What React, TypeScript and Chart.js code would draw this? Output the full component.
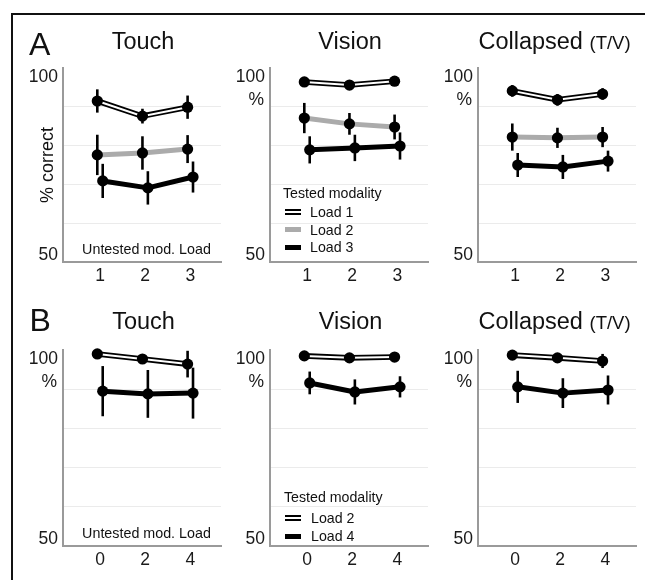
import React, { useEffect, useRef } from 'react';
import { Chart, registerables } from 'chart.js';
Chart.register(...registerables);

const FONT = '"Liberation Sans", Arial, Helvetica, sans-serif';

// ---------- data ----------
const xLabelsA = ['1', '2', '3'];
const xLabelsB = ['0', '2', '4'];

// Row A: Touch
const touchA_load1 = [91.5, 87.6, 89.9];
const touchA_load1_err = [3.0, 1.9, 3.0];
const touchA_load2 = [77.6, 78.1, 79.1];
const touchA_load2_err = [5.2, 4.3, 3.6];
const touchA_load3 = [70.9, 69.1, 71.9];
const touchA_load3_err = [4.4, 4.3, 4.0];

// Row A: Vision
const visionA_load1 = [96.4, 95.6, 96.6];
const visionA_load1_err = [0.8, 0.8, 0.8];
const visionA_load2 = [87.1, 85.6, 84.8];
const visionA_load2_err = [3.9, 2.8, 3.2];
const visionA_load3 = [78.9, 79.4, 79.9];
const visionA_load3_err = [3.5, 3.4, 3.5];

// Row A: Collapsed
const collA_load1 = [94.1, 91.8, 93.3];
const collA_load1_err = [1.5, 1.5, 1.5];
const collA_load2 = [82.2, 82.0, 82.2];
const collA_load2_err = [3.5, 2.6, 2.6];
const collA_load3 = [75.0, 74.5, 76.0];
const collA_load3_err = [3.1, 3.1, 2.7];

// Row B: Touch
const touchB_load2 = [99.0, 97.7, 96.4];
const touchB_load2_err = [0.5, 0.8, 3.4];
const touchB_load4 = [89.5, 88.8, 89.0];
const touchB_load4_err = [6.4, 6.1, 6.5];

// Row B: Vision
const visionB_load2 = [98.5, 98.0, 98.2];
const visionB_load2_err = [0.6, 0.6, 0.6];
const visionB_load4 = [91.6, 89.3, 90.6];
const visionB_load4_err = [2.9, 3.2, 2.7];

// Row B: Collapsed
const collB_load2 = [98.7, 98.0, 97.2];
const collB_load2_err = [0.5, 0.6, 1.8];
const collB_load4 = [90.6, 89.0, 89.8];
const collB_load4_err = [4.1, 3.8, 3.7];

const yTickLabels = ['100', '50'];

// ---------- styles ----------
type Kind = 'double' | 'gray' | 'black';
interface Series { kind: Kind; values: number[]; errs: number[]; dodge: number }
interface PanelDef {
  id: string;
  axisX: number;
  top: number;
  plotW: number;
  plotH: number;
  xLabels: string[];
  pct: boolean;
  series: Series[];
}

const DODGE = 0.06;
const PLOT_W = 158;

const PANELS: PanelDef[] = [
  {
    id: 'tA', axisX: 63, top: 68, plotW: PLOT_W, plotH: 194, xLabels: xLabelsA, pct: false,
    series: [
      { kind: 'double', values: touchA_load1, errs: touchA_load1_err, dodge: -DODGE },
      { kind: 'gray', values: touchA_load2, errs: touchA_load2_err, dodge: -DODGE },
      { kind: 'black', values: touchA_load3, errs: touchA_load3_err, dodge: DODGE },
    ],
  },
  {
    id: 'vA', axisX: 270, top: 68, plotW: PLOT_W, plotH: 194, xLabels: xLabelsA, pct: true,
    series: [
      { kind: 'double', values: visionA_load1, errs: visionA_load1_err, dodge: -DODGE },
      { kind: 'gray', values: visionA_load2, errs: visionA_load2_err, dodge: -DODGE },
      { kind: 'black', values: visionA_load3, errs: visionA_load3_err, dodge: DODGE },
    ],
  },
  {
    id: 'cA', axisX: 478, top: 68, plotW: PLOT_W, plotH: 194, xLabels: xLabelsA, pct: true,
    series: [
      { kind: 'double', values: collA_load1, errs: collA_load1_err, dodge: -DODGE },
      { kind: 'gray', values: collA_load2, errs: collA_load2_err, dodge: -DODGE },
      { kind: 'black', values: collA_load3, errs: collA_load3_err, dodge: DODGE },
    ],
  },
  {
    id: 'tB', axisX: 63, top: 350, plotW: PLOT_W, plotH: 196, xLabels: xLabelsB, pct: true,
    series: [
      { kind: 'double', values: touchB_load2, errs: touchB_load2_err, dodge: -DODGE },
      { kind: 'black', values: touchB_load4, errs: touchB_load4_err, dodge: DODGE },
    ],
  },
  {
    id: 'vB', axisX: 270, top: 350, plotW: PLOT_W, plotH: 196, xLabels: xLabelsB, pct: true,
    series: [
      { kind: 'double', values: visionB_load2, errs: visionB_load2_err, dodge: -DODGE },
      { kind: 'black', values: visionB_load4, errs: visionB_load4_err, dodge: DODGE },
    ],
  },
  {
    id: 'cB', axisX: 478, top: 350, plotW: PLOT_W, plotH: 196, xLabels: xLabelsB, pct: true,
    series: [
      { kind: 'double', values: collB_load2, errs: collB_load2_err, dodge: -DODGE },
      { kind: 'black', values: collB_load4, errs: collB_load4_err, dodge: DODGE },
    ],
  },
];

const PAD_L = 60;
const PAD_T = 12;
const PAD_R = 10;
const X_H = 32;

const extrasPlugin = {
  id: 'panelExtras',
  afterDatasetsDraw(chart: any) {
    const { ctx } = chart;
    const x = chart.scales.x;
    const y = chart.scales.y;
    chart.data.datasets.forEach((ds: any) => {
      if (!ds.errors) return;
      ctx.save();
      ctx.strokeStyle = '#000';
      ctx.lineWidth = 2.6;
      ds.data.forEach((p: any, j: number) => {
        const px = x.getPixelForValue(p.x);
        ctx.beginPath();
        ctx.moveTo(px, y.getPixelForValue(p.y - ds.errors[j]));
        ctx.lineTo(px, y.getPixelForValue(p.y + ds.errors[j]));
        ctx.stroke();
      });
      ctx.restore();
    });
  },
  afterDraw(chart: any, _args: any, opts: any) {
    const { ctx, chartArea } = chart;
    const y = chart.scales.y;
    const rx = chartArea.left - 5;
    ctx.save();
    ctx.fillStyle = '#1a1a1a';
    ctx.font = `17.5px ${FONT}`;
    ctx.textAlign = 'right';
    ctx.textBaseline = 'middle';
    ctx.fillText(yTickLabels[0], rx, y.getPixelForValue(100) + 9.5);
    if (opts.pct) ctx.fillText('%', rx - 1, y.getPixelForValue(100) + 32.5);
    ctx.fillText(yTickLabels[1], rx, y.getPixelForValue(50) - 7);
    ctx.restore();
  },
};

function buildDatasets(series: Series[]) {
  const ds: any[] = [];
  series.forEach((s) => {
    const pts = s.values.map((v, i) => ({ x: i + 1 + s.dodge, y: v }));
    const color = s.kind === 'gray' ? '#ababab' : '#000';
    ds.push({
      data: pts,
      showLine: true,
      borderColor: color,
      borderWidth: s.kind === 'double' ? 5.6 : 5,
      pointRadius: 0,
      tension: 0,
      borderJoinStyle: 'round',
      clip: false,
      order: 3,
    });
    if (s.kind === 'double') {
      ds.push({
        data: pts,
        showLine: true,
        borderColor: '#fff',
        borderWidth: 2,
        pointRadius: 0,
        tension: 0,
        clip: false,
        order: 2,
      });
    }
    ds.push({
      data: pts,
      showLine: false,
      pointRadius: 5.6,
      pointBackgroundColor: '#000',
      pointBorderColor: '#000',
      pointBorderWidth: 0,
      errors: s.errs,
      clip: false,
      order: 1,
    });
  });
  return ds;
}

function Panel({ p }: { p: PanelDef }) {
  const ref = useRef<HTMLCanvasElement>(null);
  const W = PAD_L + p.plotW + PAD_R;
  const H = PAD_T + p.plotH + X_H;
  useEffect(() => {
    if (!ref.current) return;
    const chart = new Chart(ref.current, {
      type: 'scatter',
      data: { datasets: buildDatasets(p.series) as any },
      options: {
        animation: false,
        responsive: false,
        devicePixelRatio: 1,
        layout: { padding: { left: 0, top: PAD_T, right: PAD_R, bottom: 0 } },
        plugins: {
          legend: { display: false },
          tooltip: { enabled: false },
          panelExtras: { pct: p.pct },
        } as any,
        scales: {
          x: {
            type: 'linear',
            min: 0.18,
            max: 3.68,
            afterBuildTicks: (s: any) => {
              s.ticks = p.xLabels.map((_, i) => ({ value: i + 1 }));
            },
            afterFit: (s: any) => { s.height = X_H; },
            ticks: {
              callback: (v: any) => p.xLabels[Math.round(Number(v)) - 1] ?? '',
              font: { size: 17.5, family: FONT },
              color: '#1a1a1a',
              padding: 4,
              maxRotation: 0,
              autoSkip: false,
            },
            grid: { display: false, drawTicks: false },
            border: { display: true, color: '#9a9a9a', width: 2 },
          },
          y: {
            type: 'linear',
            min: 50,
            max: 100,
            afterFit: (s: any) => { s.width = PAD_L; },
            ticks: { display: false, stepSize: 10 },
            grid: {
              drawTicks: false,
              color: (c: any) => (c.tick && c.tick.value > 50 && c.tick.value < 100 ? '#ebebeb' : 'rgba(0,0,0,0)'),
              lineWidth: 1,
            },
            border: { display: true, color: '#9a9a9a', width: 2 },
          },
        },
      },
      plugins: [extrasPlugin],
    });
    return () => chart.destroy();
  }, [p]);
  return (
    <canvas
      ref={ref}
      width={W}
      height={H}
      style={{ position: 'absolute', left: p.axisX - PAD_L, top: p.top - PAD_T, width: W, height: H }}
    />
  );
}

function Text({ x, y, size, children, align = 'left', w = 300 }: any) {
  // y = vertical centre of cap height
  const left = align === 'center' ? x - w / 2 : x;
  return (
    <div
      style={{
        position: 'absolute',
        left,
        top: y - 0.49 * size,
        width: align === 'center' ? w : undefined,
        textAlign: align,
        fontSize: size,
        lineHeight: `${size}px`,
        whiteSpace: 'nowrap',
        color: '#111',
        fontFamily: FONT,
      }}
    >
      {children}
    </div>
  );
}

function Swatch({ kind, x, y }: { kind: Kind; x: number; y: number }) {
  if (kind === 'double') {
    return (
      <div style={{ position: 'absolute', left: x, top: y - 3, width: 16, height: 6, background: '#000' }}>
        <div style={{ position: 'absolute', left: 0, top: 2, width: 16, height: 2, background: '#fff' }} />
      </div>
    );
  }
  return (
    <div
      style={{
        position: 'absolute', left: x, top: y - 2.5, width: 16, height: 5,
        background: kind === 'gray' ? '#ababab' : '#000',
      }}
    />
  );
}

const legendA = [
  { kind: 'double' as Kind, label: 'Load 1' },
  { kind: 'gray' as Kind, label: 'Load 2' },
  { kind: 'black' as Kind, label: 'Load 3' },
];
const legendB = [
  { kind: 'double' as Kind, label: 'Load 2' },
  { kind: 'black' as Kind, label: 'Load 4' },
];

export default function App() {
  return (
    <div
      style={{
        position: 'absolute', left: 0, top: 0, width: 645, height: 580,
        background: '#fff', overflow: 'hidden', fontFamily: FONT,
      }}
    >
      {/* frame */}
      <div style={{ position: 'absolute', left: 11, top: 13, width: 634, height: 2, background: '#111' }} />
      <div style={{ position: 'absolute', left: 11, top: 13, width: 2, height: 567, background: '#111' }} />

      {PANELS.map((p) => <Panel key={p.id} p={p} />)}

      {/* letters */}
      <Text x={29} y={43.3} size={32}>A</Text>
      <Text x={29.5} y={319.3} size={32}>B</Text>

      {/* titles row A */}
      <Text x={143} y={41.5} size={23.5} align="center">Touch</Text>
      <Text x={350} y={41.5} size={23.5} align="center">Vision</Text>
      <Text x={554.5} y={41.5} size={23.5} align="center">
        Collapsed <span style={{ fontSize: 18.5 }}>(T/V)</span>
      </Text>
      {/* titles row B */}
      <Text x={143.5} y={321.5} size={23.5} align="center">Touch</Text>
      <Text x={350.5} y={321.5} size={23.5} align="center">Vision</Text>
      <Text x={554.5} y={321.5} size={23.5} align="center">
        Collapsed <span style={{ fontSize: 18.5 }}>(T/V)</span>
      </Text>

      {/* % correct */}
      <div
        style={{
          position: 'absolute', left: 47 - 60, top: 164.5 - 10, width: 120, height: 20,
          lineHeight: '20px', textAlign: 'center', fontSize: 18, color: '#111',
          transform: 'rotate(-90deg)', transformOrigin: '60px 10px', whiteSpace: 'nowrap',
        }}
      >
        % correct
      </div>

      {/* untested modality labels */}
      <Text x={146.5} y={249} size={14.3} align="center">Untested mod. Load</Text>
      <Text x={146.5} y={533} size={14.3} align="center">Untested mod. Load</Text>

      {/* legend A */}
      <Text x={283} y={193} size={14.2}>Tested modality</Text>
      {legendA.map((l, i) => (
        <React.Fragment key={l.label}>
          <Swatch kind={l.kind} x={285} y={212 + i * 17.5} />
          <Text x={310} y={212 + i * 17.5} size={14.2}>{l.label}</Text>
        </React.Fragment>
      ))}

      {/* legend B */}
      <Text x={284} y={497} size={14.2}>Tested modality</Text>
      {legendB.map((l, i) => (
        <React.Fragment key={l.label}>
          <Swatch kind={l.kind} x={285} y={518 + i * 18} />
          <Text x={311} y={518 + i * 18} size={14.2}>{l.label}</Text>
        </React.Fragment>
      ))}
    </div>
  );
}
